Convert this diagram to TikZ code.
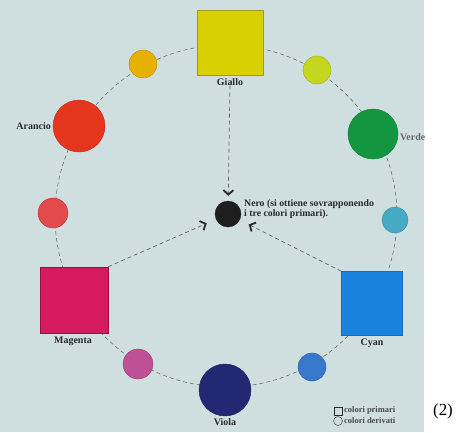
\documentclass[tikz,border=0pt]{standalone}
\usepackage{fontspec}
\setmainfont{Liberation Serif}
\usetikzlibrary{arrows.meta}
\definecolor{bg}{RGB}{207,222,222}
\definecolor{cgiallo}{RGB}{217,208,0}
\definecolor{dgiallo}{RGB}{165,150,40}
\definecolor{cgialloar}{RGB}{230,176,0}
\definecolor{cgialloverde}{RGB}{196,214,30}
\definecolor{cverde}{RGB}{20,150,65}
\definecolor{cazzurro}{RGB}{70,170,195}
\definecolor{ccyan}{RGB}{25,130,220}
\definecolor{cblu}{RGB}{55,120,205}
\definecolor{cviola}{RGB}{35,40,115}
\definecolor{cporpora}{RGB}{190,80,150}
\definecolor{cmagenta}{RGB}{215,25,95}
\definecolor{crosso}{RGB}{225,75,75}
\definecolor{carancio}{RGB}{230,55,30}
\definecolor{cnero}{RGB}{30,30,30}
\definecolor{ctext}{RGB}{40,40,45}
\definecolor{cline}{RGB}{95,100,105}
\tikzset{
  sq/.style={draw, line width=0.6bp, inner sep=0},
  dot/.style={circle, inner sep=0, draw, line width=0.4bp},
  lab/.style={font=\bfseries\fontsize{10}{11}\selectfont, text=ctext, inner sep=0},
  ring/.style={draw=cline, line width=0.55bp, dash pattern=on 4bp off 3bp},
  conn/.style={draw=cline, line width=0.7bp, dash pattern=on 4bp off 3bp,
    -{Straight Barb[length=4.5bp,width=10bp,line width=1.8bp,color=ctext]}},
  legtext/.style={font=\bfseries\fontsize{8.5}{9}\selectfont, text=ctext!85, inner sep=0, anchor=west},
}
\begin{document}
\begin{tikzpicture}[x=1bp,y=-1bp]
\useasboundingbox (0,0) rectangle (459,432);
\fill[bg] (0,0) rectangle (424,432);
\draw[ring] (226,216) circle [radius=171];

% primary squares
\node[sq, fill=cgiallo, draw=dgiallo, minimum width=66bp, minimum height=65bp] (giallo) at (230,43) {};
\node[sq, fill=cmagenta, draw=cmagenta!70!black, minimum width=68bp, minimum height=66bp] (magenta) at (74,300) {};
\node[sq, fill=ccyan, draw=ccyan!85!black, minimum width=61bp, minimum height=64bp] (cyan) at (372,303.5) {};

% derived circles
\node[dot, fill=cgialloar, draw=cgialloar!80!black, minimum size=28bp] (gialloar) at (143,64) {};
\node[dot, fill=cgialloverde, draw=cgialloverde!80!black, minimum size=28bp] (gialloverde) at (317,70) {};
\node[dot, fill=cverde, draw=cverde!80!black, minimum size=50bp] (verde) at (373,134) {};
\node[dot, fill=cazzurro, draw=cazzurro!80!black, minimum size=26bp] (azzurro) at (395,220) {};
\node[dot, fill=cblu, draw=cblu!80!black, minimum size=28bp] (blu) at (312,367) {};
\node[dot, fill=cviola, draw=cviola!80!black, minimum size=52bp] (viola) at (225,390) {};
\node[dot, fill=cporpora, draw=cporpora!80!black, minimum size=30bp] (porpora) at (138,364) {};
\node[dot, fill=crosso, draw=crosso!80!black, minimum size=30bp] (rosso) at (53,213) {};
\node[dot, fill=carancio, draw=carancio!80!black, minimum size=52bp] (arancio) at (79,126) {};

% black centre
\node[dot, fill=cnero, draw=cnero, minimum size=26bp] (nero) at (228,214) {};

% labels
\node[lab] (lgiallo) at (230,82) {Giallo};
\node[lab, anchor=west, text=ctext!70] (lverde) at (400,137) {Verde};
\node[lab] (lcyan) at (372,343) {Cyan};
\node[lab] (lviola) at (225,422) {Viola};
\node[lab] (lmagenta) at (73,341) {Magenta};
\node[lab, anchor=east] (larancio) at (51,126) {Arancio};
\node[lab, anchor=west, align=left, font=\bfseries\fontsize{9.8}{10.5}\selectfont] (lnero) at (244,209)
  {Nero (si ottiene sovrapponendo\\i tre colori primari).};

% connectors
\draw[conn, shorten >=5bp] (lgiallo) -- (nero);
\draw[conn, shorten >=10bp] (magenta.north east) -- (nero);
\draw[conn, shorten >=10bp] (cyan.north west) -- (nero);

% legend
\node[draw=ctext, line width=0.4bp, minimum size=8bp, inner sep=0] (lsq) at (338,411) {};
\node[draw=ctext, line width=0.4bp, circle, minimum size=9bp, inner sep=0] (lci) at (338,421) {};
\node[legtext] (lprim) at (344,410.5) {colori primari};
\node[legtext] (lder) at (344,420.5) {colori derivati};

\node[font=\fontsize{17}{18}\selectfont, inner sep=0] (num) at (443,411) {(2)};
\end{tikzpicture}
\end{document}
